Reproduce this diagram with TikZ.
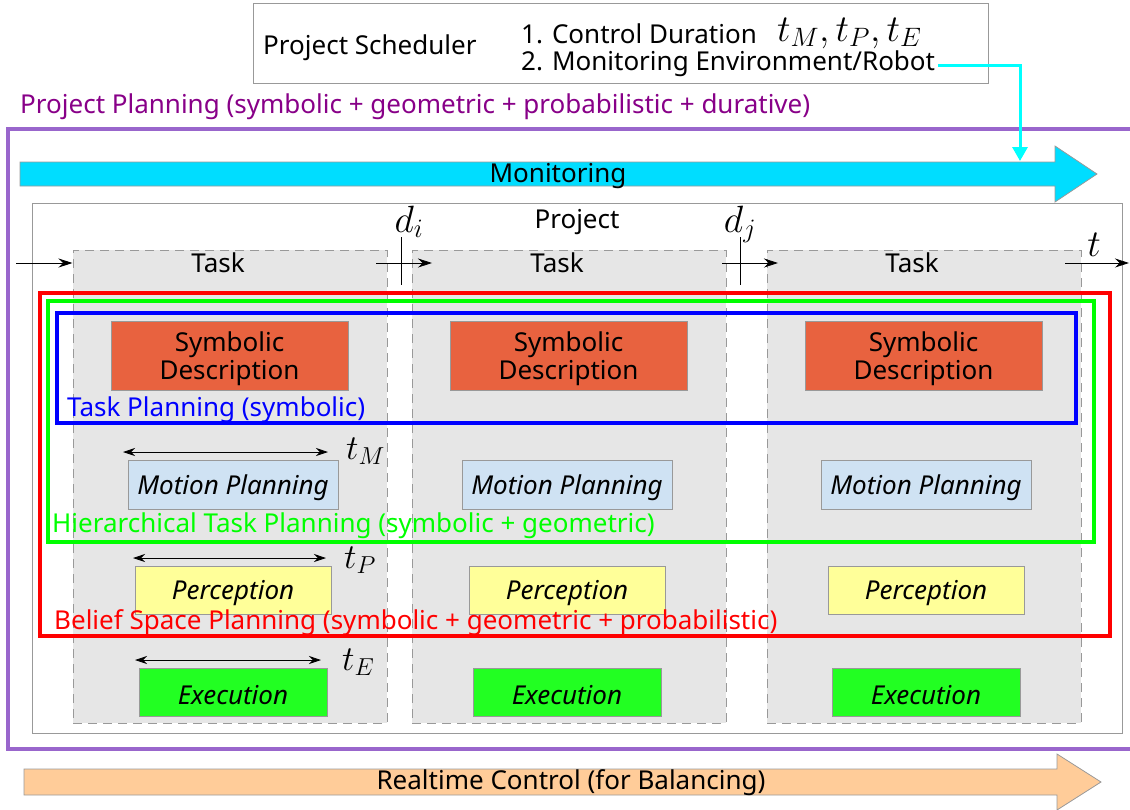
\documentclass[tikz,border=0pt]{standalone}
\usepackage{fix-cm}
\usepackage{fontspec}
\setmainfont{Noto Sans}
\usetikzlibrary{arrows.meta}
\definecolor{planpurple}{HTML}{9966CC}
\definecolor{plantext}{HTML}{880088}
\definecolor{monfill}{HTML}{00DDFF}
\definecolor{monline}{HTML}{00FFFF}
\definecolor{symfill}{HTML}{E8623F}
\definecolor{motfill}{HTML}{CFE2F3}
\definecolor{perfill}{HTML}{FFFF99}
\definecolor{exefill}{HTML}{22FF22}
\definecolor{taskfill}{HTML}{E6E6E6}
\definecolor{rtfill}{HTML}{FFCC99}
\definecolor{edgegray}{HTML}{999999}
\tikzset{
  txt/.style={font=\fontsize{26}{28}\selectfont, inner sep=0pt},
  mth/.style={font=\fontsize{35}{38}\selectfont, inner sep=0pt},
  bigm/.style={font=\fontsize{38}{42}\selectfont, inner sep=0pt},
  taskbox/.style={draw=edgegray, fill=taskfill, dash pattern=on 9pt off 6pt, line width=1pt,
    minimum width=314pt, minimum height=473pt, inner sep=0pt},
  inbox/.style={draw=edgegray, line width=1pt, inner sep=0pt},
  symbox/.style={inbox, fill=symfill, minimum width=237pt, minimum height=69pt},
  motbox/.style={inbox, fill=motfill, minimum width=210pt, minimum height=49pt},
  perbox/.style={inbox, fill=perfill, minimum width=196pt, minimum height=48pt},
  exebox/.style={inbox, fill=exefill, minimum width=188pt, minimum height=48pt},
  % captions inside the boxes, set slightly below the box centre
  boxcap/.style={inner sep=0pt, align=center, yshift=-3pt, font=\fontsize{26}{28}\selectfont},
  iboxcap/.style={boxcap, font=\fontsize{26}{28}\selectfont\itshape},
  frame/.style={draw, line width=4pt, inner sep=0pt},
  timeline/.style={-{Stealth[length=14pt,width=9pt]}, line width=0.8pt},
  span/.style={{Stealth[length=12pt,width=8pt]}-{Stealth[length=12pt,width=8pt]}, line width=0.8pt},
}
\begin{document}
\begin{tikzpicture}[x=1pt, y=-1pt]
\useasboundingbox (0,0) rectangle (1130,809);
\clip (0,0) rectangle (1130,809);

% scheduler
\node[draw=edgegray, line width=1pt, minimum width=735pt, minimum height=80pt, inner sep=0pt] (sched) at (620.5,43) {};
\node[txt, anchor=base west] (schedname) at (263,54) {Project Scheduler};
\node[txt, anchor=base west] (ctrl) at (521,43) {1. Control Duration};
\node[bigm, anchor=base west] (durs) at (777,41) {$t_M, t_P, t_E$};
\node[txt, anchor=base west] (moni) at (521,70) {2. Monitoring Environment/Robot};

% project planning frame
\node[txt, anchor=base west, text=plantext] (pplabel) at (20,113) {Project Planning (symbolic + geometric + probabilistic + durative)};
\draw[planpurple, line width=3.5pt] (1140,129) -- (8,129) -- (8,749) -- (1140,749);

% monitoring band
\draw[edgegray, line width=0.8pt, fill=monfill] (20,162) -- (1055,162) -- (1055,146) -- (1097,174) -- (1055,202) -- (1055,186) -- (20,186) -- cycle;
\node[txt, yshift=-2pt] (monband) at (558,174) {Monitoring};
\coordinate (monin) at (1020,161);
\coordinate (monout) at (938,65);
\draw[monline, line width=3pt, -{Triangle[length=14pt,width=15pt]}] (monout) -| (monin);

% project box
\node[draw=edgegray, line width=1pt, minimum width=1090pt, minimum height=530pt, inner sep=0pt] (proj) at (577,468) {};
\node[txt] (projlabel) at (577,222) {Project};

% tasks
\node[taskbox] (t1) at (230,486.5) {};
\node[taskbox] (t2) at (569,486.5) {};
\node[taskbox] (t3) at (924,486.5) {};
\node[txt] (t1l) at (218,263) {Task};
\node[txt] (t2l) at (557,263) {Task};
\node[txt] (t3l) at (912,263) {Task};

% time axis
\coordinate (a0) at (16,263);
\coordinate (a1s) at (376,263); \coordinate (a1e) at (432,263);
\coordinate (a2s) at (722,263); \coordinate (a2e) at (778,263);
\coordinate (a3s) at (1065,263); \coordinate (a3e) at (1129,263);
\draw[timeline] (a0) -- (t1.west |- a0);
\draw[timeline] (a1s) -- (a1e);
\draw[timeline] (a2s) -- (a2e);
\draw[timeline] (a3s) -- (a3e);
\coordinate (k1a) at (401,237); \coordinate (k1b) at (401,285);
\coordinate (k2a) at (740,237); \coordinate (k2b) at (740,285);
\draw[line width=0.8pt] (k1a) -- (k1b);
\draw[line width=0.8pt] (k2a) -- (k2b);
\node[bigm, anchor=base] (di) at (409,232) {$d_i$};
\node[bigm, anchor=base] (dj) at (740,232) {$d_j$};
\node[bigm, anchor=base] (tt) at (1094,256) {$t$};

% inner boxes
\foreach \n/\x/\mx in {1/229.5/233, 2/568.5/567, 3/923.5/926} {
  \node[symbox] (s\n) at (\x,355.5) {};
  \node[boxcap] (s\n-cap) at (s\n) {Symbolic\\Description};
  \node[motbox] (m\n) at (\mx,484.5) {};
  \node[iboxcap] (m\n-cap) at (m\n) {Motion Planning};
  \node[perbox] (p\n) at (\mx,590) {};
  \node[iboxcap] (p\n-cap) at (p\n) {Perception};
  \node[exebox] (e\n) at (\mx,692) {};
  \node[iboxcap] (e\n-cap) at (e\n) {Execution};
}

% durations
\coordinate (tm0) at (123,452); \coordinate (tm1) at (328,452);
\coordinate (tp0) at (133,558); \coordinate (tp1) at (326,558);
\coordinate (te0) at (135,660); \coordinate (te1) at (321,660);
\draw[span] (tm0) -- (tm1);
\draw[span] (tp0) -- (tp1);
\draw[span] (te0) -- (te1);
\node[mth, anchor=base west] (tml) at (346,459) {$t_M$};
\node[mth, anchor=base west] (tpl) at (344,568) {$t_P$};
\node[mth, anchor=base west] (tel) at (342,670) {$t_E$};

% planning frames
\node[frame, draw=red, minimum width=1070pt, minimum height=343pt] (bsp) at (575,464.5) {};
\node[frame, draw=green, minimum width=1046pt, minimum height=241pt] (htp) at (571,421.5) {};
\node[frame, draw=blue, minimum width=1019pt, minimum height=110pt] (tp) at (566.5,368) {};
\node[txt, anchor=base west, text=blue] (tpl2) at (67,416) {Task Planning (symbolic)};
\node[txt, anchor=base west, text=green] (htpl) at (52,532) {Hierarchical Task Planning (symbolic + geometric)};
\node[txt, anchor=base west, text=red] (bspl) at (54,629) {Belief Space Planning (symbolic + geometric + probabilistic)};

% realtime band
\draw[edgegray, line width=0.8pt, fill=rtfill] (24,769) -- (1057,769) -- (1057,754) -- (1101,782) -- (1057,810) -- (1057,795) -- (24,795) -- cycle;
\node[txt, yshift=-2pt] (rtband) at (571,781) {Realtime Control (for Balancing)};
\end{tikzpicture}
\end{document}
